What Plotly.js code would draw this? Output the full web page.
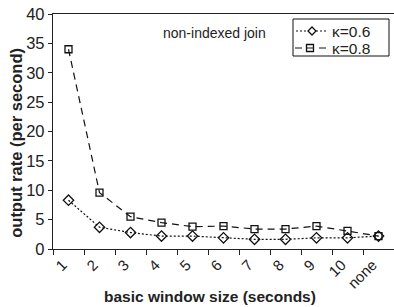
<!DOCTYPE html>
<html>
<head>
<meta charset="utf-8">
<script src="https://cdn.plot.ly/plotly-3.0.1.min.js"></script>
<style>html,body{margin:0;padding:0;background:#fff;}#chart{width:394px;height:307px;}</style>
</head>
<body>
<div id="chart"></div>
<script>
var categories = ["1","2","3","4","5","6","7","8","9","10","none"];
var kappa06 = [8.3, 3.7, 2.8, 2.2, 2.2, 1.9, 1.65, 1.65, 1.9, 1.9, 2.2];
var kappa08 = [34.0, 9.6, 5.5, 4.5, 3.8, 3.9, 3.4, 3.4, 3.9, 3.1, 2.2];
var seriesNames = ["\u03ba=0.6", "\u03ba=0.8"];
var yTicks = [0,5,10,15,20,25,30,35,40];

var FONT = "Liberation Sans, Arial, Helvetica, sans-serif";
var INK = "#111";
var DASH06 = "2px,2px";
var DASH08 = "7px,5px";

var traces = [
  {
    x: categories, y: kappa06, name: seriesNames[0], type: "scatter", mode: "lines+markers",
    line: {color: INK, width: 1.2, dash: DASH06},
    marker: {symbol: "diamond-open", size: 8, color: INK, line: {width: 1.3, color: INK}}
  },
  {
    x: categories, y: kappa08, name: seriesNames[1], type: "scatter", mode: "lines+markers",
    line: {color: INK, width: 1.2, dash: DASH08},
    marker: {symbol: "square-open", size: 7, color: INK, line: {width: 1.3, color: INK}}
  }
];

// compact boxed key (top-right corner of the key box as anchor, pixel offsets)
var keyX = (389 - 53) / 341, keyY = (249 - 19) / 235;
var row1 = -12, row2 = -29;
function px(obj) {
  obj.xref = "paper"; obj.yref = "paper";
  obj.xsizemode = "pixel"; obj.ysizemode = "pixel";
  obj.xanchor = keyX; obj.yanchor = keyY;
  return obj;
}
var shapes = [
  px({type: "rect", x0: -96, x1: 0, y0: 0, y1: -37, line: {color: INK, width: 1}, fillcolor: "#fff", layer: "above"}),
  px({type: "line", x0: -93, x1: -61, y0: row1, y1: row1, line: {color: INK, width: 1.2, dash: DASH06}, layer: "above"}),
  px({type: "path", path: "M -77," + (row1 + 4) + " L -73," + row1 + " L -77," + (row1 - 4) + " L -81," + row1 + " Z",
      fillcolor: "#fff", line: {color: INK, width: 1.3}, layer: "above"}),
  px({type: "line", x0: -94, x1: -63, y0: row2, y1: row2, line: {color: INK, width: 1.2, dash: DASH08}, layer: "above"}),
  px({type: "path", path: "M -82.5," + (row2 + 3.5) + " L -75.5," + (row2 + 3.5) + " L -75.5," + (row2 - 3.5) + " L -82.5," + (row2 - 3.5) + " Z",
      line: {color: INK, width: 1.3}, layer: "above"})
];

var layout = {
  width: 394, height: 307,
  margin: {l: 53, r: 0, t: 14, b: 58},
  paper_bgcolor: "#fff", plot_bgcolor: "#fff",
  font: {family: FONT, color: "#222"},
  showlegend: false,
  xaxis: {
    type: "category", categoryorder: "array", categoryarray: categories,
    range: [-0.5, 10.5],
    tickson: "boundaries", ticks: "outside", ticklen: 5, tickcolor: "#222", tickwidth: 1,
    showline: true, linecolor: "#222", linewidth: 1.2, mirror: true,
    showgrid: false, zeroline: false,
    tickangle: -45, ticklabelshift: -6,
    tickfont: {family: FONT, size: 15, color: "#222"}
  },
  yaxis: {
    range: [0, 40], tickvals: yTicks, ticks: "outside", ticklen: 4, tickcolor: "#222",
    showline: true, linecolor: "#222", linewidth: 1.2,
    showgrid: false, zeroline: false,
    tickfont: {family: FONT, size: 16.5, color: "#222"}
  },
  shapes: shapes,
  annotations: [
    {text: seriesNames[0], xref: "paper", yref: "paper", x: keyX, y: keyY, xanchor: "left", yanchor: "middle",
     xshift: -58, yshift: row1, borderpad: 0, showarrow: false, font: {family: FONT, size: 15.5, color: "#222"}},
    {text: seriesNames[1], xref: "paper", yref: "paper", x: keyX, y: keyY, xanchor: "left", yanchor: "middle",
     xshift: -58, yshift: row2, borderpad: 0, showarrow: false, font: {family: FONT, size: 15.5, color: "#222"}},
    {text: "non-indexed join", xref: "paper", yref: "paper", x: 0.475, y: 0.919,
     xanchor: "center", yanchor: "middle",
     showarrow: false, font: {family: FONT, size: 14, color: "#222"}},
    {text: "<b>basic window size (seconds)</b>", xref: "paper", yref: "paper", x: 0.46, y: -0.204,
     xanchor: "center", yanchor: "middle",
     showarrow: false, font: {family: FONT, size: 15.5, color: "#222"}},
    {text: "<b>output rate (per second)</b>", xref: "paper", yref: "paper", x: -0.1085, y: 0.452,
     xanchor: "center", yanchor: "middle",
     textangle: -90, showarrow: false, font: {family: FONT, size: 16.5, color: "#222"}}
  ]
};

Plotly.newPlot("chart", traces, layout, {displayModeBar: false, staticPlot: true});
</script>
</body>
</html>
